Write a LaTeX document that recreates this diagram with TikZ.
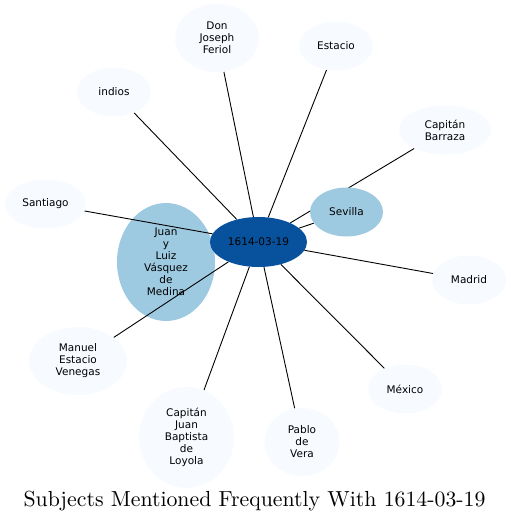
\documentclass[tikz,border=0pt]{standalone}
\usepackage{fontspec}
\newfontfamily\dejavu{DejaVu Sans}
\newfontfamily\titlefont{lmroman10-regular}[Extension=.otf]
\usetikzlibrary{shapes.geometric}
\definecolor{cdark}{HTML}{08519C}
\definecolor{cmid}{HTML}{9ECAE1}
\definecolor{clight}{HTML}{F7FBFF}
\pgfdeclarelayer{bottom}
\pgfdeclarelayer{edgelayer}
\pgfsetlayers{bottom,edgelayer,main}
\tikzset{
  ent/.style={ellipse, inner sep=0pt, align=center, text=black,
    font=\dejavu\fontsize{10.5}{12}\selectfont},
  light/.style={ent, fill=clight},
  mid/.style={ent, fill=cmid},
  hub/.style={ent, fill=cdark},
  link/.style={draw=black, line width=0.9pt}
}
\begin{document}
\begin{tikzpicture}[x=1pt,y=-1pt]
\useasboundingbox (0,0) rectangle (511,524);
\begin{pgfonlayer}{bottom}
\node[mid, minimum width=98pt, minimum height=118pt] (juan) at (166,262) {Juan\\y\\Luiz\\Vásquez\\de\\Medina};
\end{pgfonlayer}
\node[hub, minimum width=97pt, minimum height=50pt] (c) at (258.5,242) {1614-03-19};
\node[mid, minimum width=73pt, minimum height=49pt] (sev) at (346.5,212) {Sevilla};
\node[light, minimum width=84pt, minimum height=68pt] (don) at (217,38) {Don\\Joseph\\Feriol};
\node[light, minimum width=74pt, minimum height=49pt] (est) at (336,46) {Estacio};
\node[light, minimum width=74pt, minimum height=49pt] (ind) at (114,92) {indios};
\node[light, minimum width=92pt, minimum height=49pt] (bar) at (445,130) {Capitán\\Barraza};
\node[light, minimum width=81pt, minimum height=49pt] (san) at (45.5,204) {Santiago};
\node[light, minimum width=74pt, minimum height=49pt] (mad) at (469,280) {Madrid};
\node[light, minimum width=98pt, minimum height=68pt] (man) at (78,361) {Manuel\\Estacio\\Venegas};
\node[light, minimum width=74pt, minimum height=49pt] (mex) at (405,389) {México};
\node[light, minimum width=95pt, minimum height=101pt] (loy) at (186.5,437.5) {Capitán\\Juan\\Baptista\\de\\Loyola};
\node[light, minimum width=75pt, minimum height=68pt] (pab) at (302,442) {Pablo\\de\\Vera};
\begin{pgfonlayer}{edgelayer}
\foreach \t in {sev,don,est,ind,bar,san,mad,man,mex,loy,pab}
  \draw[link] (c) -- (\t);
\end{pgfonlayer}
\node[font=\titlefont\fontsize{21.8}{25}\selectfont, inner sep=0pt] (title) at (254.5,501) {Subjects Mentioned Frequently With 1614-03-19};
\end{tikzpicture}
\end{document}
